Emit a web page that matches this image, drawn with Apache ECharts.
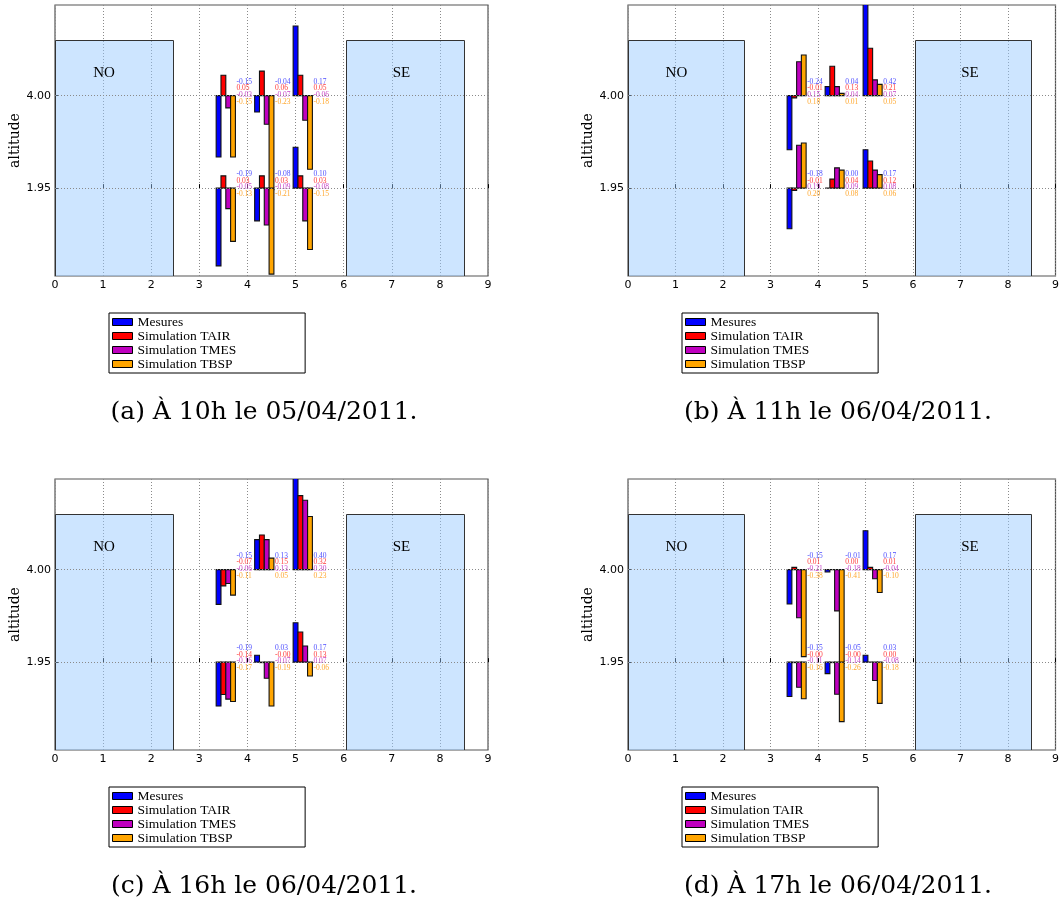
<!DOCTYPE html>
<html><head><meta charset="utf-8">
<script src="https://cdn.jsdelivr.net/npm/echarts@6/dist/echarts.min.js"></script>
<style>html,body{margin:0;padding:0;background:#fff}#c{width:1062px;height:909px}</style>
</head><body><div id="c"></div>
<script>
// ---------------- DATA ----------------
const seriesNames = ['Mesures', 'Simulation TAIR', 'Simulation TMES', 'Simulation TBSP'];
const captions = ['(a) À 10h le 05/04/2011.', '(b) À 11h le 06/04/2011.', '(c) À 16h le 06/04/2011.', '(d) À 17h le 06/04/2011.'];
const altitudeLevels = [0, 1];            // lower / upper sensor row
const altitudeLabels = ['1.95', '4.00'];
const xTicks = [0, 1, 2, 3, 4, 5, 6, 7, 8, 9];
const groupX = [3.4, 4.2, 5.0];           // x of the Mesures bar in each group
const barStep = 0.1;
// each array: [4.00 g1, 4.00 g2, 4.00 g3, 1.95 g1, 1.95 g2, 1.95 g3]
const a_Mesures = [-0.15, -0.04, 0.17, -0.19, -0.08, 0.10];
const a_TAIR    = [ 0.05,  0.06, 0.05,  0.03,  0.03, 0.03];
const a_TMES    = [-0.03, -0.07, -0.06, -0.05, -0.09, -0.08];
const a_TBSP    = [-0.15, -0.23, -0.18, -0.13, -0.21, -0.15];
const b_Mesures = [-0.24, 0.04, 0.42, -0.18, 0.00, 0.17];
const b_TAIR    = [-0.01, 0.13, 0.21, -0.01, 0.04, 0.12];
const b_TMES    = [ 0.15, 0.04, 0.07,  0.19, 0.09, 0.08];
const b_TBSP    = [ 0.18, 0.01, 0.05,  0.20, 0.08, 0.06];
const c_Mesures = [-0.15, 0.13, 0.40, -0.19,  0.03,   0.17];
const c_TAIR    = [-0.07, 0.15, 0.32, -0.14, -0.002,  0.13];
const c_TMES    = [-0.06, 0.13, 0.30, -0.16, -0.07,   0.07];
const c_TBSP    = [-0.11, 0.05, 0.23, -0.17, -0.19,  -0.06];
const d_Mesures = [-0.15, -0.01,  0.17, -0.15,  -0.05,   0.03];
const d_TAIR    = [ 0.01,  0.00,  0.01, -0.002, -0.002,  0.00];
const d_TMES    = [-0.21, -0.18, -0.04, -0.11,  -0.14,  -0.08];
const d_TBSP    = [-0.38, -0.41, -0.10, -0.16,  -0.26,  -0.18];
const panelValues = [
  [a_Mesures, a_TAIR, a_TMES, a_TBSP],
  [b_Mesures, b_TAIR, b_TMES, b_TBSP],
  [c_Mesures, c_TAIR, c_TMES, c_TBSP],
  [d_Mesures, d_TAIR, d_TMES, d_TBSP]
];
// temperature difference spanned by the distance between the two altitude rows
const panelGap = [0.226, 0.41, 0.40, 0.404];
const zoneNames = ['NO', 'SE'];
const zoneStart = [0, 6.05];
const zoneEnd = [2.45, 8.5];
const zoneTop = [1.6, 1.6];

// ---------------- LAYOUT / STYLE ----------------
const Y_MIN = -0.95, Y_MAX = 1.98;
const gridPos = [[55, 5], [628, 5], [55, 479], [628, 479]];
const legendPos = [[109, 313], [682, 313], [109, 787], [682, 787]];
const captionPos = [[264, 412], [838, 412], [264, 886], [838, 886]];
const zoneLabelX = [1.02, 7.2];
const zoneLabelY = 1.24;
const barColors = ['#0000ff', '#ff0000', '#bf00bf', '#ffa500'];
const textColors = ['#5050ff', '#ff3c3c', '#c848c8', '#ffa830'];
const gridColor = '#8a8a8a';

const grids = [], xAxes = [], yAxes = [], series = [], legends = [], graphics = [];

gridPos.forEach(([l, t], p) => {
  grids.push({left: l, top: t, width: 433, height: 271, show: true,
    borderColor: '#555', borderWidth: 1.2, backgroundColor: '#fff'});
  xAxes.push({gridIndex: p, type: 'value', min: xTicks[0], max: xTicks[xTicks.length - 1], interval: 1,
    axisLine: {show: false},
    axisTick: {inside: true, length: 4, lineStyle: {color: '#000'}},
    axisLabel: {margin: 4, fontFamily: 'DejaVu Sans', fontSize: 11, color: '#000'},
    splitLine: {show: true, lineStyle: {type: [1, 2], color: gridColor, width: 1}}});
  yAxes.push({gridIndex: p, type: 'value', min: Y_MIN, max: Y_MAX,
    name: 'altitude', nameLocation: 'middle', nameGap: 31, nameRotate: 90,
    nameTextStyle: {fontFamily: 'DejaVu Serif', fontSize: 14, color: '#000'},
    axisLine: {show: false},
    axisTick: {inside: true, length: 4, customValues: altitudeLevels, lineStyle: {color: '#000'}},
    axisLabel: {margin: 4, customValues: altitudeLevels, fontFamily: 'DejaVu Sans', fontSize: 11, color: '#000',
      formatter: v => altitudeLabels[altitudeLevels.indexOf(v)]},
    splitLine: {show: false}});

  // NO / SE zones
  series.push({type: 'custom', xAxisIndex: p, yAxisIndex: p, clip: true, silent: true, z: 1,
    data: zoneNames.map((n, i) => [zoneStart[i], zoneEnd[i], zoneTop[i]]),
    renderItem: (params, api) => {
      const i = params.dataIndex;
      const p0 = api.coord([api.value(0), api.value(2)]);
      const p1 = api.coord([api.value(1), Y_MIN]);
      const lp = api.coord([zoneLabelX[i], zoneLabelY]);
      return {type: 'group', children: [
        {type: 'rect', shape: {x: Math.round(p0[0]) + 0.5, y: Math.round(p0[1]) + 0.5,
          width: Math.round(p1[0] - p0[0]), height: Math.round(p1[1] - p0[1])},
          style: {fill: 'rgba(150,200,255,0.48)', stroke: '#333', lineWidth: 1}},
        {type: 'text', x: lp[0], y: lp[1], style: {text: zoneNames[i], fill: '#000',
          fontFamily: 'Liberation Serif', fontSize: 15, align: 'center', verticalAlign: 'middle'}}
      ]};
    }});
  // horizontal dotted lines at the altitude rows
  series.push({type: 'line', xAxisIndex: p, yAxisIndex: p, data: [], silent: true, z: 2,
    markLine: {silent: true, symbol: 'none', label: {show: false}, animation: false,
      lineStyle: {type: [1, 2], color: gridColor, width: 1},
      data: altitudeLevels.map(v => ({yAxis: v}))}});

  // bars
  seriesNames.forEach((name, k) => {
    const vals = panelValues[p][k];
    series.push({type: 'custom', name: name, xAxisIndex: p, yAxisIndex: p, clip: true, z: 3,
      itemStyle: {color: barColors[k]},
      data: vals.map((v, i) => [groupX[i % 3] + k * barStep, altitudeLevels[1 - Math.floor(i / 3)], v, groupX[i % 3]]),
      renderItem: (params, api) => {
        const x = api.value(0), base = api.value(1), v = api.value(2), gx = api.value(3);
        const a = api.coord([x - barStep / 2, base + v / panelGap[p]]);
        const b = api.coord([x + barStep / 2, base]);
        const lab = api.coord([gx + 3.5 * barStep, base]);
        const y0 = Math.min(a[1], b[1]), h = Math.abs(a[1] - b[1]);
        return {type: 'group', children: [
          {type: 'rect', shape: {x: a[0], y: y0, width: b[0] - a[0], height: h},
            style: {fill: barColors[k], stroke: '#111', lineWidth: 1.1}},
          {type: 'text', z2: 10, x: lab[0] + 1, y: lab[1] - 4 + (k - 1.5) * 6.6,
            style: {text: v.toFixed(2), fill: textColors[k], fontFamily: 'Liberation Serif', fontSize: 7.5,
              align: 'left', verticalAlign: 'middle'}}
        ]};
      }});
  });
});

legendPos.forEach(([l, t], p) => {
  legends.push({orient: 'vertical', left: l, top: t, selectedMode: false,
    data: seriesNames.map((n, k) => ({name: n, itemStyle: {color: barColors[k], borderColor: '#000', borderWidth: 1}})),
    icon: 'rect', itemWidth: 20, itemHeight: 7, itemGap: 0,
    padding: [2, 69, 2, 3], borderColor: '#000', borderWidth: 1, borderRadius: 0, backgroundColor: '#fff',
    textStyle: {fontFamily: 'Liberation Serif', fontSize: 13.5, color: '#000', lineHeight: 14}});
});

captionPos.forEach(([x, y], p) => {
  graphics.push({type: 'text', x: x, y: y, style: {text: captions[p], fill: '#000',
    fontFamily: 'DejaVu Serif', fontSize: 25, align: 'center', verticalAlign: 'middle'}});
});

const chart = echarts.init(document.getElementById('c'), null, {renderer: 'canvas'});
chart.setOption({
  animation: false,
  backgroundColor: '#fff',
  grid: grids, xAxis: xAxes, yAxis: yAxes, series: series, legend: legends, graphic: graphics
});
</script></body></html>
